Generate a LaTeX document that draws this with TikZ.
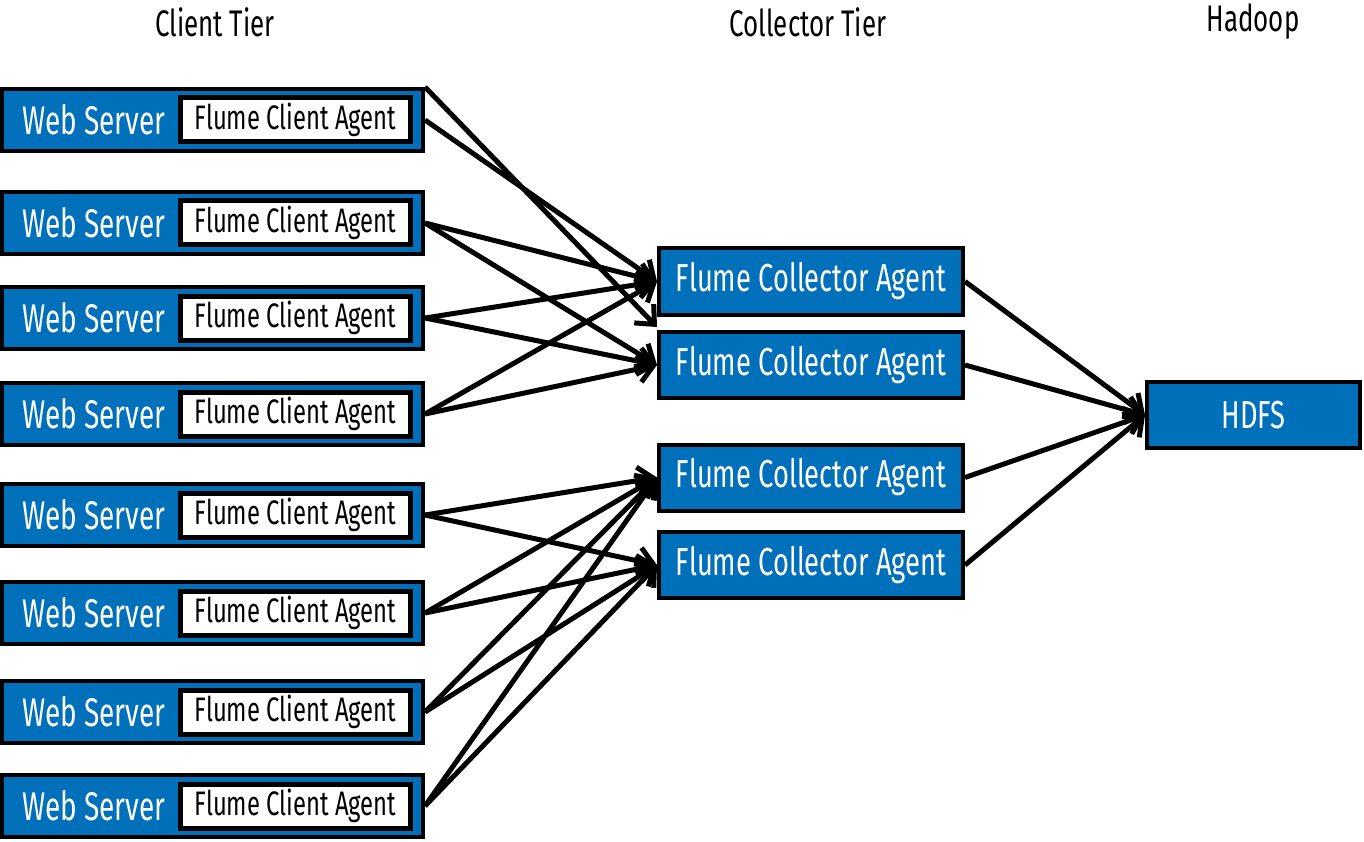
\documentclass[tikz,border=0pt]{standalone}
\usepackage{fontspec}
\newfontfamily\figfont[FakeStretch=0.7]{Fira Sans}
\usetikzlibrary{arrows.meta,positioning}
\definecolor{flumeblue}{RGB}{0,112,187}

\begin{document}
\begin{tikzpicture}[x=1pt,y=-1pt,>={Straight Barb[length=15pt,width=27pt]},
    font=\figfont\fontsize{37}{39}\selectfont,
    client/.style={draw,line width=4pt,fill=flumeblue,inner sep=0pt,%
      minimum width=421pt,minimum height=62pt},
    wslabel/.style={text=white,inner sep=0pt,anchor=west,font=\figfont\fontsize{40}{42}\selectfont},
    agent/.style={draw,line width=5pt,fill=white,inner sep=0pt,anchor=east,%
      minimum width=230pt,minimum height=44pt,font=\figfont\fontsize{34}{36}\selectfont},
    collector/.style={draw,line width=4pt,fill=flumeblue,text=white,inner sep=0pt,%
      minimum width=304pt,minimum height=66pt,font=\figfont\fontsize{39}{41}\selectfont},
    tier/.style={inner sep=0pt},
    flow/.style={->,line width=5pt}]
  \useasboundingbox (0,0) rectangle (1364,842);

  \node[tier] (tclient) at (215,22) {Client Tier};
  \node[tier] (tcollector) at (808,22) {Collector Tier};
  \node[tier] (thadoop) at (1253,22) {Hadoop};

  \foreach \i/\y in {1/120,2/223,3/318,4/414,5/515,6/613,7/712,8/806} {
    \node[client] (ws\i) at (212.5,\y) {};
    \node[wslabel] (wsl\i) at ([xshift=22pt]ws\i.west) {Web Server};
    \node[agent] (fca\i) at ([xshift=-12pt]ws\i.east) {Flume Client Agent};
  }

  \node[collector] (col1) at (811,281.5) {Flume Collector Agent};
  \node[collector] (col2) at (811,365) {Flume Collector Agent};
  \node[collector] (col3) at (811,477.5) {Flume Collector Agent};
  \node[collector] (col4) at (811,565) {Flume Collector Agent};
  \node[collector,minimum width=213pt] (hdfs) at (1253.5,415) {HDFS};

  \draw[flow] (ws1.north east) -- ([yshift=3pt]col2.north west);
  \draw[flow] (ws1.east) -- (col1.west);
  \foreach \i in {2,3,4} {
    \draw[flow] (ws\i.east) -- (col1.west);
    \draw[flow] (ws\i.east) -- (col2.west);
  }
  \foreach \i in {5,6,7,8} {
    \draw[flow] (ws\i.east) -- (col3.west);
    \draw[flow] (ws\i.east) -- (col4.west);
  }
  \foreach \j in {1,2,3,4}
    \draw[flow] (col\j.east) -- (hdfs.west);
\end{tikzpicture}
\end{document}
